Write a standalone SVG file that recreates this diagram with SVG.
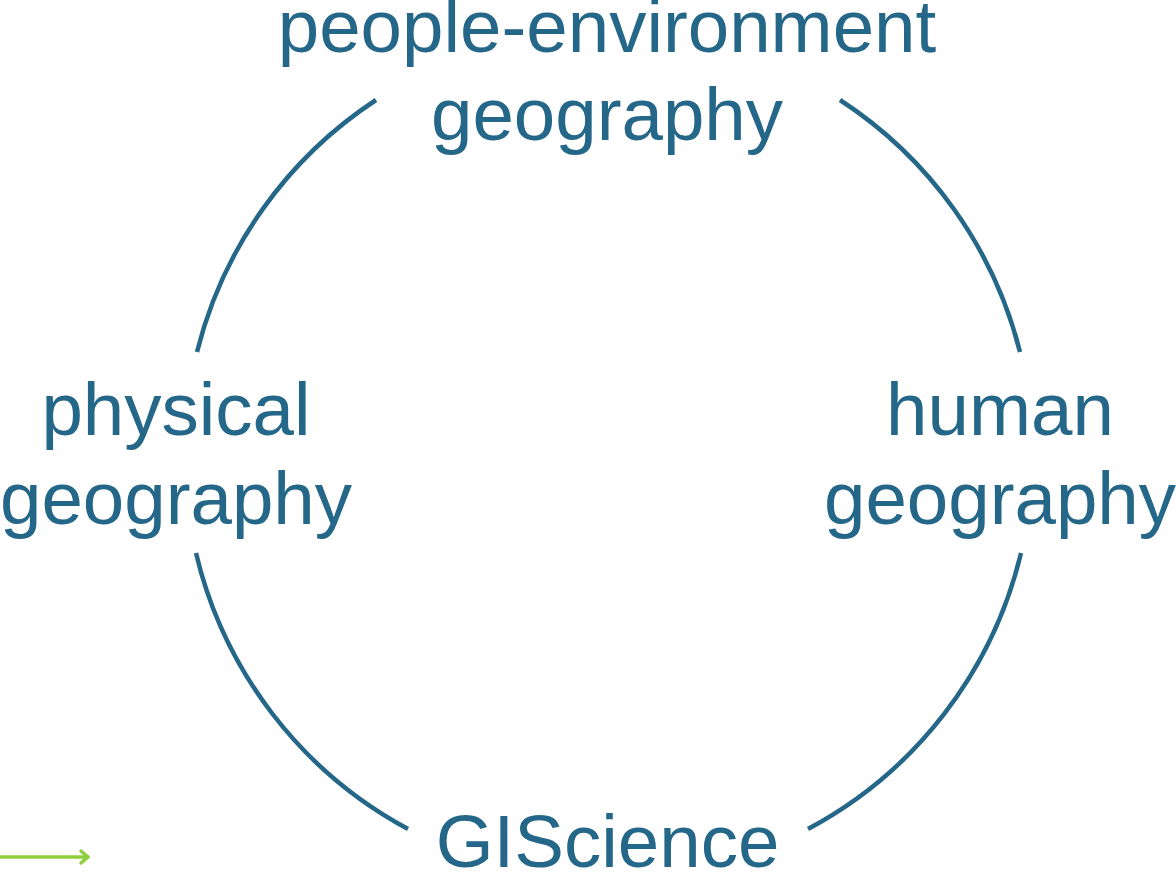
<svg xmlns="http://www.w3.org/2000/svg" width="1176" height="874" viewBox="0 0 1176 874">
  <style>
    .label { font-family: "Liberation Sans", Arial, sans-serif; font-size: 74.5px; fill: #256789; text-anchor: middle; }
    .ring { fill: none; stroke: #256789; stroke-width: 4.5; }
    .cue { fill: none; stroke: #8dcf3f; stroke-width: 3.5; stroke-linecap: round; stroke-linejoin: round; }
  </style>
  <rect width="1176" height="874" fill="#ffffff"/>

  <!-- circle arcs linking the four fields (centre 608,455, r 424) -->
  <g id="connectors">
    <path class="ring" d="M 197 352 A 424 424 0 0 1 376 100"/>
    <path class="ring" d="M 840 100 A 424 424 0 0 1 1020 352"/>
    <path class="ring" d="M 1021 553 A 424 424 0 0 1 808 829"/>
    <path class="ring" d="M 408 829 A 424 424 0 0 1 196 553"/>
  </g>

  <g id="people-environment">
    <text class="label" x="607" y="52">people-environment</text>
    <text class="label" x="607" y="140">geography</text>
  </g>
  <g id="physical">
    <text class="label" x="176" y="435">physical</text>
    <text class="label" x="176" y="524">geography</text>
  </g>
  <g id="human">
    <text class="label" x="1000" y="435">human</text>
    <text class="label" x="1000" y="524">geography</text>
  </g>
  <g id="giscience">
    <text class="label" x="607.5" y="867">GIScience</text>
  </g>

  <!-- small green arrow in the lower-left corner -->
  <g id="corner-arrow">
    <path class="cue" d="M 0 857 L 88 857"/>
    <path class="cue" d="M 81 851 L 88 857 L 81 863"/>
  </g>
</svg>
